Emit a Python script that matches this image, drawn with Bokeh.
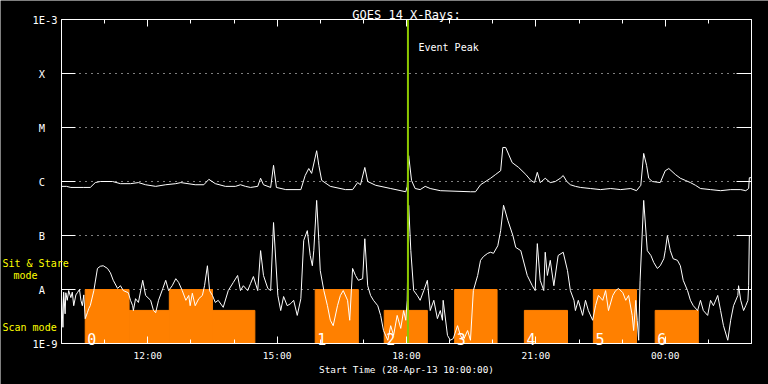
import numpy as np
import pandas as pd
from bokeh.plotting import figure
from bokeh.models import (Range1d, FixedTicker, DatetimeTickFormatter, DatetimeAxis,
                          LogAxis, Label)
from bokeh.embed import file_html
from bokeh.resources import INLINE
from bokeh.core.properties import value

# ---------------- data ----------------
start_time = "2013-04-28 10:00:00"
span_hours = 16
event_peak_min = 482            # minutes after start (18:02)

# GOES long channel (1-8 A): (minutes after start, log10 flux W/m^2)
xrs_long = [(0,-6.09),(7,-6.09),(13,-6.11),(31,-6.11),(40,-6.11),(47,-6.02),(54,-6.00),(71,-6.00),
            (82,-6.04),(96,-6.04),(107,-6.02),(117,-6.06),(131,-6.09),(145,-6.06),(159,-6.04),(166,-6.02),
            (186,-6.06),(198,-6.06),(205,-5.96),(214,-6.04),(228,-6.09),(242,-6.09),(249,-6.06),(256,-6.09),
            (263,-6.11),(273,-6.09),(277,-5.94),(281,-6.06),(291,-6.11),(295,-5.70),(299,-6.11),(312,-6.15),
            (333,-6.15),(339,-5.89),(344,-5.76),(348,-5.85),(355,-5.43),(358,-5.70),(362,-5.98),(374,-6.09),
            (395,-6.15),(405,-6.15),(412,-6.02),(416,-6.06),(422,-5.74),(426,-6.00),(437,-6.07),(458,-6.13),
            (479,-6.19),(481,-6.09),(483,-5.52),(487,-5.98),(492,-6.13),(499,-6.15),(506,-6.09),(513,-6.13),
            (527,-6.17),(569,-6.19),(576,-6.19),(583,-6.06),(597,-5.94),(604,-5.87),(611,-5.80),(614,-5.37),
            (618,-5.37),(627,-5.65),(636,-5.74),(646,-5.87),(653,-5.98),(658,-6.02),(662,-5.83),(666,-6.02),
            (673,-5.94),(680,-6.02),(687,-6.00),(694,-5.94),(698,-5.89),(703,-6.00),(708,-6.06),(715,-6.09),
            (722,-6.11),(736,-6.13),(750,-6.15),(764,-6.13),(778,-6.15),(792,-6.13),(800,-6.17),(806,-6.07),
            (810,-5.48),(814,-5.70),(817,-5.94),(822,-6.00),(833,-6.02),(840,-5.80),(845,-5.76),(854,-5.87),
            (861,-5.94),(868,-5.98),(875,-6.02),(882,-6.07),(889,-6.13),(903,-6.15),(917,-6.17),(931,-6.15),
            (945,-6.15),(952,-6.17),(956,-6.13),(957,-5.93),(960,-5.93)]

# GOES short channel (0.5-4 A): (minutes after start, log10 flux W/m^2)
xrs_short = [(0,-8.10),(2,-8.70),(3,-8.05),(5,-8.45),(6,-8.06),(8,-8.20),(10,-8.02),(13,-8.15),
             (15,-8.05),(17,-8.30),(20,-8.10),(22,-8.06),(25,-8.00),(27,-8.20),(29,-8.30),(31,-8.10),
             (33,-8.54),(36,-8.43),(38,-8.35),(40,-8.30),(45,-8.02),(50,-7.61),(54,-7.57),(58,-7.56),
             (64,-7.61),(68,-7.69),(72,-7.83),(78,-7.98),(82,-7.93),(86,-8.02),(93,-8.06),(96,-8.20),
             (99,-8.30),(100,-8.39),(103,-8.17),(107,-8.24),(113,-7.83),(117,-8.11),(124,-8.20),(128,-8.39),
             (131,-8.43),(135,-8.20),(141,-7.98),(145,-7.83),(149,-8.02),(154,-7.93),(159,-7.80),(163,-7.87),
             (168,-8.02),(173,-8.20),(177,-8.11),(179,-8.30),(182,-8.07),(186,-8.30),(191,-8.17),(196,-8.11),
             (199,-7.93),(203,-7.56),(206,-8.02),(210,-8.11),(214,-8.24),(218,-8.20),(225,-8.33),(232,-8.02),
             (239,-7.87),(245,-7.74),(249,-8.02),(253,-7.93),(259,-8.02),(263,-7.89),(267,-7.76),(273,-8.02),
             (277,-7.28),(281,-7.74),(287,-7.98),(291,-8.02),(295,-6.76),(301,-8.11),(305,-8.39),(309,-8.13),
             (314,-8.30),(319,-8.26),(323,-8.20),(328,-8.48),(333,-8.17),(337,-7.09),(342,-6.91),(346,-7.37),
             (349,-7.56),(351,-7.28),(355,-6.35),(358,-7.09),(360,-7.65),(365,-8.02),(370,-8.30),(374,-8.57),
             (378,-8.67),(384,-8.30),(388,-8.11),(392,-8.02),(398,-8.20),(401,-8.57),(405,-7.61),(409,-7.74),
             (413,-7.83),(419,-7.80),(422,-7.06),(426,-7.93),(430,-8.11),(434,-8.20),(440,-8.30),(444,-8.48),
             (448,-8.76),(454,-8.94),(458,-8.67),(462,-8.85),(467,-8.48),(472,-8.72),(476,-8.39),(479,-8.57),
             (481,-8.20),(483,-6.44),(486,-7.28),(490,-8.02),(495,-8.11),(499,-8.20),(504,-8.02),(509,-7.83),
             (513,-8.39),(518,-8.20),(523,-8.54),(527,-8.39),(530,-8.57),(531,-8.20),(537,-8.85),(541,-8.94),
             (545,-8.91),(551,-8.67),(555,-8.85),(559,-8.94),(565,-8.76),(569,-8.94),(573,-8.02),(579,-7.74),
             (583,-7.46),(587,-7.39),(593,-7.33),(597,-7.31),(601,-7.33),(607,-7.19),(611,-6.91),(615,-6.44),
             (621,-6.72),(628,-7.00),(632,-7.22),(639,-7.28),(648,-7.74),(655,-7.93),(659,-8.02),(662,-7.15),
             (666,-7.83),(671,-8.02),(673,-7.31),(676,-7.74),(680,-7.46),(685,-7.93),(691,-7.37),(698,-7.31),
             (704,-7.65),(708,-8.02),(713,-8.20),(715,-8.39),(719,-8.20),(725,-8.48),(729,-8.20),(733,-8.39),
             (739,-8.57),(743,-8.30),(747,-8.11),(753,-8.20),(757,-8.02),(761,-8.39),(767,-8.11),(771,-8.02),
             (775,-7.98),(781,-8.06),(785,-8.20),(789,-8.11),(794,-8.48),(796,-8.76),(799,-8.20),(801,-8.57),
             (803,-8.94),(805,-7.83),(810,-6.35),(815,-7.28),(820,-7.37),(824,-7.50),(829,-7.61),(833,-7.56),
             (838,-7.43),(840,-7.28),(843,-7.00),(847,-7.28),(851,-7.43),(857,-7.46),(861,-7.56),(865,-7.83),
             (871,-8.02),(875,-8.20),(879,-8.30),(885,-8.39),(889,-8.20),(893,-8.39),(899,-8.48),(903,-8.20),
             (907,-8.30),(913,-8.11),(917,-8.39),(921,-8.67),(927,-8.94),(931,-8.57),(935,-8.30),(941,-8.11),
             (942,-7.93),(945,-8.20),(949,-8.39),(952,-8.30),(955,-8.20),(956,-7.93),(957,-7.00),(959,-7.00)]

# observing segments (minutes after start) and level: Sit & Stare = 1E-8 level, Scan = lower level
seg_start = [33, 94, 150, 210, 353, 449, 547, 644, 740, 826]
seg_end   = [94, 150, 210, 269, 413, 509, 606, 704, 800, 886]
seg_top   = [1e-8, 4.1e-9, 1e-8, 4.1e-9, 1e-8, 4.1e-9, 1e-8, 4.1e-9, 1e-8, 4.1e-9]
block_start = [33, 353, 449, 547, 644, 740, 826]
block_label = ["0", "1", "2", "3", "4", "5", "6"]

y_ticks = [1e-9, 1e-8, 1e-7, 1e-6, 1e-5, 1e-4, 1e-3]
y_tick_labels = ["1E-9", "A", "B", "C", "M", "X", "1E-3"]
x_major_hours = [2, 5, 8, 11, 14]          # 12:00 15:00 18:00 21:00 00:00
x_minor_hours = list(range(0, 17))

# ---------------- layout (pixels) ----------------
W, H = 768, 384
box_l, box_r, box_t, box_b = 61, 751, 19, 343     # axes box inside the canvas
FONT = "DejaVu Sans Mono"

t0 = pd.Timestamp(start_time)
t_end = t0 + pd.Timedelta(hours=span_hours)
y_lo, y_hi = y_ticks[0], y_ticks[-1]
px_per_min = (box_r - box_l) / (span_hours * 60.0)
px_per_dec = (box_b - box_t) / (np.log10(y_hi) - np.log10(y_lo))
x_start = t0 - pd.Timedelta(minutes=box_l / px_per_min)
x_stop = t_end + pd.Timedelta(minutes=(W - box_r) / px_per_min)
y_top = 10 ** (np.log10(y_hi) + box_t / px_per_dec)
y_bottom = 10 ** (np.log10(y_lo) - (H - box_b) / px_per_dec)

def tm(mins):
    return t0 + pd.to_timedelta(np.asarray(mins, dtype=float), unit="m")

def ms(ts):
    return float(pd.Timestamp(ts).value // 10**6)

p = figure(width=W, height=H, x_axis_type="datetime", y_axis_type="log",
           x_range=Range1d(x_start.to_pydatetime(), x_stop.to_pydatetime()),
           y_range=Range1d(y_bottom, y_top),
           output_backend="svg", toolbar_location=None,
           min_border_left=0, min_border_right=0, min_border_top=0, min_border_bottom=0,
           background_fill_color="black", border_fill_color="black", outline_line_color=None)

xmaj = [ms(t0 + pd.Timedelta(hours=h)) for h in x_major_hours]
xmin = [ms(t0 + pd.Timedelta(hours=h)) for h in x_minor_hours]
xticker = FixedTicker(ticks=xmaj, minor_ticks=xmin)
yticker = FixedTicker(ticks=y_ticks, minor_ticks=[])
fmt = DatetimeTickFormatter(microseconds="%H:%M", milliseconds="%H:%M", seconds="%H:%M",
                            minsec="%H:%M", minutes="%H:%M", hourmin="%H:%M", hours="%H:%M",
                            days="%H:%M", months="%H:%M", years="%H:%M", context=None)
xb = (ms(t0), ms(t_end))

def base_style(ax):
    ax.axis_line_color = "white"
    ax.axis_line_width = 1
    ax.major_tick_line_color = "white"
    ax.minor_tick_line_color = "white"
    ax.major_label_text_color = "white"
    ax.major_label_text_font = FONT
    ax.axis_label_text_color = "white"
    ax.axis_label_text_font = FONT
    ax.axis_label_text_font_style = "normal"
    ax.major_tick_out = 0
    ax.minor_tick_out = 0

# bottom axis
xa = p.xaxis[0]
xa.ticker = xticker
xa.formatter = fmt
base_style(xa)
xa.fixed_location = y_lo
xa.bounds = xb
xa.major_tick_in = 7
xa.minor_tick_in = 4
xa.major_label_text_font_size = "9.5px"
xa.major_label_standoff = 6
xa.axis_label = "Start Time (28-Apr-13 10:00:00)"
xa.axis_label_text_font_size = "9.4px"
xa.axis_label_standoff = 0

# left axis
ya = p.yaxis[0]
ya.ticker = yticker
base_style(ya)
ya.fixed_location = xb[0]
ya.bounds = (y_lo, y_hi)
ya.major_tick_in = 14
ya.minor_tick_in = 0
ya.major_label_text_font_size = "10.4px"
ya.major_label_standoff = 4
ya.major_label_overrides = {v: (lab if len(lab) > 1 else lab + "\u00a0\u00a0")
                            for v, lab in zip(y_ticks, y_tick_labels)}

# top axis (ticks only)
top = DatetimeAxis(ticker=xticker, formatter=fmt)
base_style(top)
top.fixed_location = y_hi
top.bounds = xb
top.major_tick_in = 7
top.minor_tick_in = 4
top.major_label_overrides = {v: "" for v in xmaj}
top.major_label_standoff = 0
p.add_layout(top, "above")

# right axis (ticks only)
right = LogAxis(ticker=yticker)
base_style(right)
right.fixed_location = xb[1]
right.bounds = (y_lo, y_hi)
right.major_tick_in = 15
right.minor_tick_in = 0
right.major_label_overrides = {v: "" for v in y_ticks}
right.major_label_standoff = 0
p.add_layout(right, "right")

p.xgrid.visible = False
p.ygrid.visible = False

# dotted decade grid lines across the time span
grid_levels = y_ticks[1:-1]
n = len(grid_levels)
p.segment(x0=[t0] * n, x1=[t_end] * n, y0=grid_levels, y1=grid_levels,
          line_color="white", line_width=1, line_dash="1 5")

# observing mode bars
p.quad(left=tm(seg_start), right=tm(seg_end), bottom=y_lo, top=seg_top,
       fill_color="#ff8000", line_color="#ff8000", line_width=1)
p.text(x=tm(block_start), y=[1.2e-9] * len(block_start), text=block_label,
       text_color="white", text_font=value(FONT), text_font_size="15px",
       text_baseline="alphabetic", x_offset=2)

# curves
lt, lv = zip(*xrs_long)
st, sv = zip(*xrs_short)
p.line(tm(lt), 10 ** np.array(lv), line_color="white", line_width=1)
p.line(tm(st), 10 ** np.array(sv), line_color="white", line_width=1)

# event peak
ev = t0 + pd.Timedelta(minutes=event_peak_min)
p.segment(x0=[ev], x1=[ev], y0=[y_lo], y1=[y_hi], line_color="#8cc800", line_width=2)

# texts (screen units measured from the canvas bottom-left)
p.add_layout(Label(x=406, y=H - 14, x_units="screen", y_units="screen", text="GOES 14 X-Rays:",
                   text_align="center", text_baseline="alphabetic", text_color="white",
                   text_font=FONT, text_font_size="12px"))
p.add_layout(Label(x=418, y=H - 47, x_units="screen", y_units="screen", text="Event Peak",
                   text_align="left", text_baseline="alphabetic", text_color="white",
                   text_font=FONT, text_font_size="10px"))
for txt, xs, yb in [("Sit & Stare", 2, 263), ("mode", 13, 275), ("Scan mode", 2, 327)]:
    p.add_layout(Label(x=xs, y=H - yb, x_units="screen", y_units="screen", text=txt,
                       text_align="left", text_baseline="alphabetic", text_color="#ffff00",
                       text_font=FONT, text_font_size="10px"))

open("out.html", "w").write(file_html(p, INLINE))
